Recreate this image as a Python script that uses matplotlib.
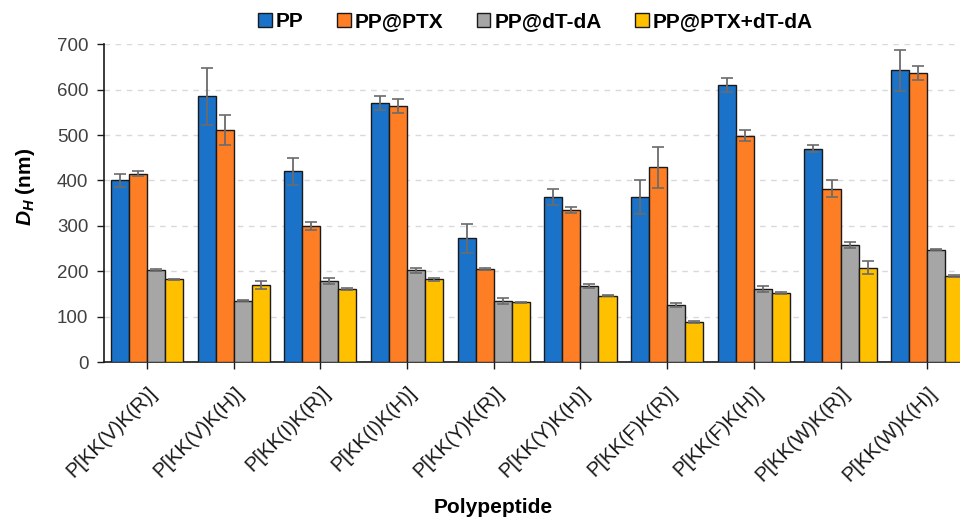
import numpy as np
import matplotlib
matplotlib.use('Agg')
import matplotlib.pyplot as plt
from matplotlib.patches import Patch

plt.rcParams['font.family'] = ['Liberation Sans', 'DejaVu Sans']
plt.rcParams['mathtext.fontset'] = 'custom'
plt.rcParams['mathtext.rm'] = 'Liberation Sans:bold'
plt.rcParams['mathtext.it'] = 'Liberation Sans:italic:bold'

# 多肽样品
peptides = ['P[KK(V)K(R)]', 'P[KK(V)K(H)]', 'P[KK(I)K(R)]', 'P[KK(I)K(H)]',
            'P[KK(Y)K(R)]', 'P[KK(Y)K(H)]', 'P[KK(F)K(R)]', 'P[KK(F)K(H)]',
            'P[KK(W)K(R)]', 'P[KK(W)K(H)]']
series_names = ['PP', 'PP@PTX', 'PP@dT-dA', 'PP@PTX+dT-dA']
colors = ['#1A72C9', '#FD7E25', '#A6A6A6', '#FFC000']

# 粒径均值 (nm)
pp = [400, 585, 420, 570, 273, 364, 364, 611, 470, 643]
pp_ptx = [415, 511, 299, 564, 205, 335, 429, 499, 382, 637]
pp_dtda = [202, 135, 179, 202, 135, 168, 126, 161, 258, 247]
pp_ptx_dtda = [182, 170, 161, 182, 132, 146, 88, 152, 208, 190]

# 标准差
pp_err = [15, 62, 30, 15, 32, 18, 38, 15, 8, 45]
pp_ptx_err = [5, 33, 9, 15, 2, 7, 45, 12, 18, 15]
pp_dtda_err = [2, 1, 6, 6, 7, 4, 4, 6, 6, 1]
pp_ptx_dtda_err = [1, 9, 2, 3, 1, 1, 2, 3, 15, 2]

means = [pp, pp_ptx, pp_dtda, pp_ptx_dtda]
errs = [pp_err, pp_ptx_err, pp_dtda_err, pp_ptx_dtda_err]

fig = plt.figure(figsize=(9.6, 5.21), dpi=100)
ax = fig.add_axes([0.108, 0.305, 0.903, 0.610])

x = np.arange(len(peptides))
w = 0.208
for k in range(4):
    ax.bar(x + (k - 1.5) * w, means[k], w, color=colors[k],
           edgecolor='#1a1a1a', linewidth=1.0, zorder=3)
    ax.errorbar(x + (k - 1.5) * w, means[k], yerr=errs[k], fmt='none',
                ecolor='#6b6b6b', elinewidth=1.3, capsize=4, capthick=1.2,
                zorder=4)

ax.set_xlim(-0.5, 9.5)
ax.set_ylim(0, 700)
ax.set_yticks(range(0, 701, 100))
ax.yaxis.grid(True, linestyle=(0, (4, 4)), color='#d9d9d9', linewidth=1.0, zorder=0)
ax.set_axisbelow(True)

for s in ['top', 'right']:
    ax.spines[s].set_visible(False)
for s in ['left', 'bottom']:
    ax.spines[s].set_color('#1a1a1a')
    ax.spines[s].set_linewidth(1.2)

ax.tick_params(axis='y', labelsize=13.5, labelcolor='#404040', length=5,
               width=1.0, color='#1a1a1a', pad=6)
ax.tick_params(axis='x', labelsize=14.5, labelcolor='#1a1a1a', length=5,
               width=1.0, color='#1a1a1a', pad=10)
ax.set_xticks(x)
ax.set_xticklabels(peptides, rotation=45, ha='right', va='top',
                   rotation_mode='anchor')

ax.set_ylabel(r'$D_H$ (nm)', fontsize=15, fontweight='bold')
ax.yaxis.set_label_coords(-0.077, 0.55)
fig.text(0.514, 0.025, 'Polypeptide', fontsize=15, fontweight='bold',
         ha='center', va='center')

handles = [Patch(facecolor=c, edgecolor='#1a1a1a', linewidth=1.0) for c in colors]
fig.legend(handles, series_names, loc='center', bbox_to_anchor=(0.558, 0.958),
           ncol=4, frameon=False, prop={'weight': 'bold', 'size': 15},
           handlelength=0.65, handleheight=0.65, handletextpad=0.2,
           columnspacing=1.6)

plt.savefig('out.png', dpi=100)
